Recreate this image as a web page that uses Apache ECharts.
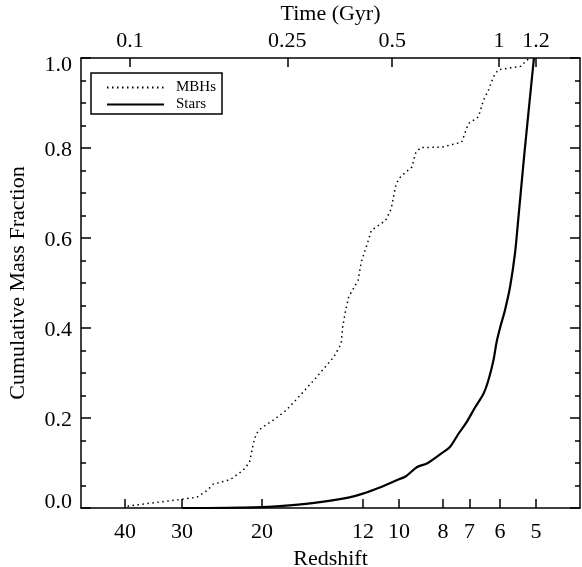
<!DOCTYPE html>
<html>
<head>
<meta charset="utf-8">
<script src="https://cdn.jsdelivr.net/npm/echarts@6/dist/echarts.min.js"></script>
<style>
html,body{margin:0;padding:0;background:#fff;}
#chart{width:582px;height:567px;}
</style>
</head>
<body>
<div id="chart"></div>
<script>
// Bottom axis: redshift ticks
const redshiftTicks = [40, 30, 20, 12, 10, 8, 7, 6, 5];
// Top axis: cosmic time ticks (labels) and the redshift at which each sits
const timeTickLabels = ['0.1', '0.25', '0.5', '1', '1.2'];
const timeTickRedshifts = [39.0, 17.6, 10.35, 6.03, 5.0];
// Y ticks
const fracTicks = [0.0, 0.2, 0.4, 0.6, 0.8, 1.0];

// MBHs (dotted)
const mbhZ    = [39.5, 35.7, 30.2, 27.8, 26.4, 25.6, 23.5, 22.0, 21.3, 20.9, 20.6, 20.05, 18.9, 17.7, 16.5, 15.2, 13.9, 13.4, 13.3, 13.1, 12.9, 12.3, 12.1, 11.8, 11.5, 10.7, 10.4, 10.15, 9.92, 9.36, 9.20, 8.97, 8.04, 7.28, 7.04, 6.69, 6.52, 6.36, 6.20, 6.05, 5.75, 5.38, 5.25, 5.12];
const mbhFrac = [0.004, 0.010, 0.019, 0.024, 0.039, 0.053, 0.063, 0.084, 0.102, 0.143, 0.165, 0.178, 0.195, 0.217, 0.250, 0.290, 0.336, 0.365, 0.402, 0.439, 0.469, 0.506, 0.547, 0.580, 0.617, 0.639, 0.665, 0.720, 0.736, 0.758, 0.788, 0.801, 0.802, 0.813, 0.854, 0.869, 0.906, 0.928, 0.958, 0.974, 0.977, 0.982, 0.995, 1.0];

// Stars (solid)
const starZ    = [30.0, 27.3, 22.0, 20.0, 18.3, 15.5, 13.1, 12.0, 11.06, 10.0, 9.67, 9.12, 8.68, 8.05, 7.72, 7.40, 7.10, 6.80, 6.52, 6.36, 6.20, 6.10, 6.00, 5.85, 5.70, 5.56, 5.47, 5.30, 5.05];
const starFrac = [0.0, 0.0, 0.001, 0.002, 0.004, 0.011, 0.022, 0.032, 0.045, 0.064, 0.070, 0.091, 0.099, 0.122, 0.136, 0.165, 0.191, 0.224, 0.254, 0.284, 0.328, 0.369, 0.399, 0.439, 0.491, 0.565, 0.639, 0.788, 1.0];

const FONT = 'Liberation Serif';
const pair = (xs, ys) => xs.map((x, i) => [x, ys[i]]);

const chart = echarts.init(document.getElementById('chart'), null, {renderer: 'canvas'});

const xCommon = {
  type: 'log',
  logBase: 10,
  min: 4,
  max: 50,
  inverse: true,
  splitLine: {show: false},
  minorTick: {show: false},
  axisLine: {show: true, onZero: false, lineStyle: {color: '#000', width: 1.5}},
  axisTick: {show: true, inside: true, length: 9, lineStyle: {color: '#000', width: 1.5}},
  nameLocation: 'middle',
  nameTextStyle: {fontFamily: FONT, fontSize: 22, color: '#000'}
};

const yCommon = {
  type: 'value',
  min: 0,
  max: 1,
  interval: 0.2,
  splitLine: {show: false},
  axisLine: {show: true, onZero: false, lineStyle: {color: '#000', width: 1.5}},
  axisTick: {show: true, inside: true, length: 10, lineStyle: {color: '#000', width: 1.5}},
  minorTick: {show: true, splitNumber: 4, length: 5, lineStyle: {color: '#000', width: 1.5}}
};

const yLabelStyle = {fontFamily: FONT, fontSize: 22, color: '#000'};

chart.setOption({
  animation: false,
  backgroundColor: '#fff',
  grid: {left: 81, right: 2, top: 58, bottom: 59, containLabel: false, outerBoundsMode: 'none'},
  legend: {
    left: 91, top: 73, orient: 'vertical',
    borderColor: '#000', borderWidth: 1.5, borderRadius: 0,
    padding: [7, 6, 2, 15],
    itemWidth: 57, itemHeight: 10, itemGap: 2,
    itemStyle: {opacity: 0},
    textStyle: {fontFamily: FONT, fontSize: 15, color: '#000', lineHeight: 12, padding: [0, 0, 0, 7]},
    data: ['MBHs', 'Stars']
  },
  xAxis: [
    Object.assign({}, xCommon, {
      position: 'bottom',
      name: 'Redshift',
      nameGap: 38,
      axisTick: Object.assign({}, xCommon.axisTick, {customValues: redshiftTicks}),
      axisLabel: {customValues: redshiftTicks, margin: 13, fontFamily: FONT, fontSize: 22, color: '#000',
        formatter: v => String(Math.round(v))}
    }),
    Object.assign({}, xCommon, {
      position: 'top',
      name: 'Time (Gyr)',
      nameGap: 31,
      axisTick: Object.assign({}, xCommon.axisTick, {customValues: timeTickRedshifts}),
      axisLabel: {customValues: timeTickRedshifts, margin: 6, fontFamily: FONT, fontSize: 22, color: '#000',
        formatter: v => {
          let best = 0;
          timeTickRedshifts.forEach((z, i) => { if (Math.abs(z - v) < Math.abs(timeTickRedshifts[best] - v)) best = i; });
          return timeTickLabels[best];
        }}
    })
  ],
  yAxis: [
    Object.assign({}, yCommon, {
      position: 'left',
      name: 'Cumulative Mass Fraction',
      nameLocation: 'middle',
      nameGap: 52,
      nameTextStyle: {fontFamily: FONT, fontSize: 22, color: '#000'},
      axisLabel: {margin: 9, fontFamily: FONT, fontSize: 22, color: '#000',
        formatter: v => {
          const s = v.toFixed(1);
          if (v >= 0.999) return '{hi|' + s + '}';
          if (v <= 0.001) return '{lo|' + s + '}';
          return '{mid|' + s + '}';
        },
        rich: {
          hi: Object.assign({padding: [14, 0, 0, 0]}, yLabelStyle),
          lo: Object.assign({padding: [0, 0, 12, 0]}, yLabelStyle),
          mid: Object.assign({padding: [4, 0, 0, 0]}, yLabelStyle)
        }}
    }),
    Object.assign({}, yCommon, {
      position: 'right',
      axisLabel: {show: false}
    })
  ],
  series: [
    {
      name: 'MBHs', type: 'line', xAxisIndex: 0, yAxisIndex: 0,
      data: pair(mbhZ, mbhFrac),
      symbol: 'none', smooth: false,
      lineStyle: {color: '#000', width: 1.5, type: [1.5, 3.5]},
      itemStyle: {color: '#000'}
    },
    {
      name: 'Stars', type: 'line', xAxisIndex: 0, yAxisIndex: 0,
      data: pair(starZ, starFrac),
      symbol: 'none', smooth: 0.3,
      lineStyle: {color: '#000', width: 2.2},
      itemStyle: {color: '#000'}
    }
  ]
});
</script>
</body>
</html>
